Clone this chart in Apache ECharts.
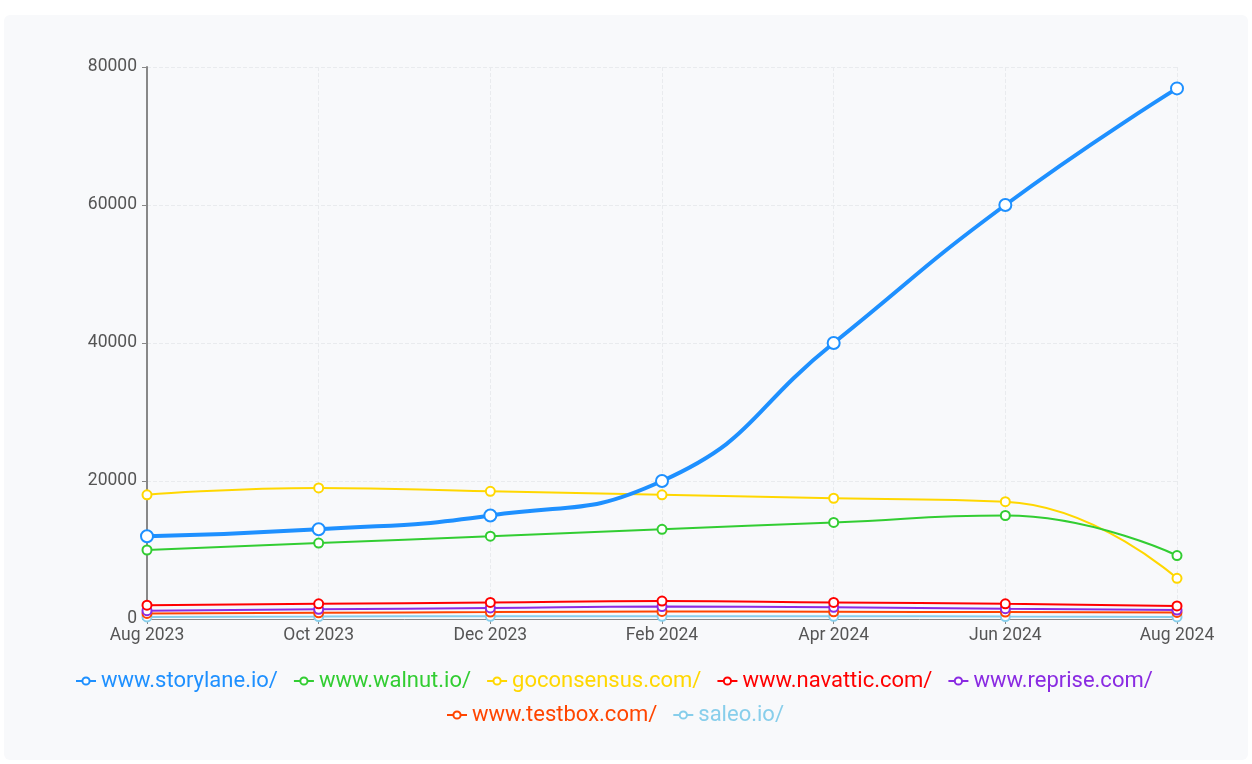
<html>
    <head>
        <meta charset="utf-8">
        <title>Traffic</title>
        <style>
            body { margin: 0; background: #ffffff; }
            #card { position: absolute; left: 4px; top: 15px; width: 1244px; height: 745px; background: #f8f9fb; border-radius: 6px; }
        </style>
    </head>
    <body>
        <div id="card"></div>
        <script type="text/javascript" src="https://cdn.jsdelivr.net/npm/echarts/dist/echarts.min.js"></script>
        <script type="text/javascript">
            var months = ['Aug 2023', 'Oct 2023', 'Dec 2023', 'Feb 2024', 'Apr 2024', 'Jun 2024', 'Aug 2024'];
            var storylane = [12000, 13000, 15000, 20000, 40000, 60000, 76900];
            var walnut = [10000, 11000, 12000, 13000, 14000, 15000, 9200];
            var goconsensus = [18000, 19000, 18500, 18000, 17500, 17000, 5900];
            var navattic = [2000, 2200, 2400, 2600, 2400, 2200, 1900];
            var reprise = [1200, 1400, 1600, 1800, 1700, 1500, 1300];
            var testbox = [800, 900, 1000, 1100, 1050, 1000, 950];
            var saleo = [300, 350, 400, 400, 400, 350, 300];

            var names = ['www.storylane.io/', 'www.walnut.io/', 'goconsensus.com/', 'www.navattic.com/', 'www.reprise.com/', 'www.testbox.com/', 'saleo.io/'];
            var values = [storylane, walnut, goconsensus, navattic, reprise, testbox, saleo];
            var colors = ['#1e90ff', '#32cd32', '#ffd700', '#ff0000', '#8a2be2', '#ff4500', '#87ceeb'];

            var series = [];
            for (var i = 0; i < names.length; i++) {
                var main = (i == 0);
                series.push({
                    name: names[i],
                    type: 'line',
                    smooth: true,
                    data: values[i],
                    symbol: 'emptyCircle',
                    symbolSize: main ? 12 : 9,
                    color: colors[i],
                    lineStyle: { width: main ? 4 : 2 },
                    itemStyle: { borderWidth: main ? 3 : 2 },
                    z: 10 - i
                });
            }

            // two legend rows, placed like the original
            var row1 = [], row2 = [];
            for (var j = 0; j < names.length; j++) {
                var item = { name: names[j], textStyle: { color: colors[j] } };
                if (j < 5) row1.push(item); else row2.push(item);
            }
            var legendBase = {
                itemGap: 15,
                itemWidth: 20,
                itemHeight: 9,
                textStyle: { fontSize: 22 }
            };

            var myChart = echarts.init(document.getElementById('card'));
            var option = {
                animation: false,
                color: colors,
                textStyle: { fontFamily: 'Roboto, "Noto Sans", sans-serif' },
                grid: { left: 143, right: 71, top: 52, bottom: 141 },
                legend: [
                    Object.assign({ data: row1, left: 66, top: 650 }, legendBase),
                    Object.assign({ data: row2, left: 437, top: 684 }, legendBase)
                ],
                xAxis: {
                    type: 'category',
                    data: months,
                    boundaryGap: false,
                    axisLine: { lineStyle: { color: '#888888' } },
                    axisTick: { alignWithLabel: true, lineStyle: { color: '#888888' } },
                    axisLabel: { color: '#555555', fontSize: 17.5, margin: 8 },
                    splitLine: { show: true, lineStyle: { type: 'dashed', color: '#e9ebee' } }
                },
                yAxis: {
                    type: 'value',
                    min: 0,
                    max: 80000,
                    interval: 20000,
                    axisLine: { show: true, lineStyle: { color: '#888888', width: 2 } },
                    axisTick: { show: true, lineStyle: { color: '#888888' } },
                    axisLabel: { color: '#555555', fontSize: 17.5, margin: 10, formatter: function (v) { return String(v); } },
                    splitLine: { show: true, lineStyle: { type: 'dashed', color: '#e9ebee' } }
                },
                series: series
            };
            myChart.setOption(option, true);
        </script>
    </body>
</html>
